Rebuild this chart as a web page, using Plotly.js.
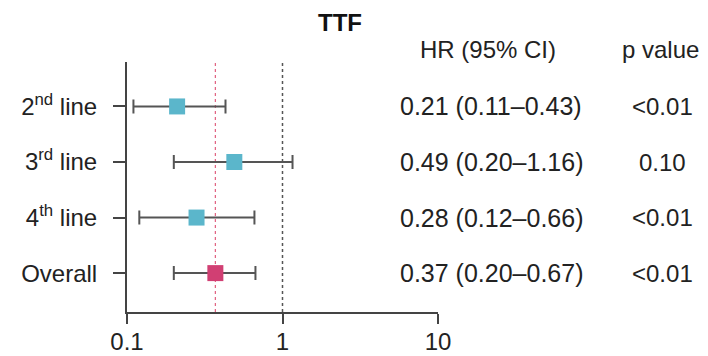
<!DOCTYPE html>
<html>
<head>
<meta charset="utf-8">
<script src="https://cdn.plot.ly/plotly-3.0.1.min.js"></script>
<style>html,body{margin:0;padding:0;background:#fff;}#chart{width:708px;height:356px;}</style>
</head>
<body>
<div id="chart"></div>
<script>
// ---- data ----
const rowLabels = ["2<sup>nd</sup> line", "3<sup>rd</sup> line", "4<sup>th</sup> line", "Overall"];
const hr      = [0.21, 0.49, 0.28, 0.37];
const ciLow   = [0.11, 0.20, 0.12, 0.20];
const ciHigh  = [0.43, 1.16, 0.66, 0.67];
const hrText  = ["0.21 (0.11\u20130.43)", "0.49 (0.20\u20131.16)", "0.28 (0.12\u20130.66)", "0.37 (0.20\u20130.67)"];
const pText   = ["<0.01", "0.10", "<0.01", "<0.01"];
const isOverall = [false, false, false, true];
const xTickVals = [0.1, 1, 10];
const xTickText = ["0.1", "1", "10"];
const nullLine = 1;
const overallLine = 0.37;

const FONT = "Liberation Sans, Arial, Helvetica, sans-serif";
const rowPos = rowLabels.map((_, i) => i);
const colors = isOverall.map(o => o ? "#d13f73" : "#5bb6cb");

const trace = {
  type: "scatter",
  mode: "markers",
  x: hr,
  y: rowPos,
  marker: {symbol: "square", size: 16, color: colors, line: {width: 0}},
  error_x: {
    type: "data",
    symmetric: false,
    array: hr.map((v, i) => ciHigh[i] - v),
    arrayminus: hr.map((v, i) => v - ciLow[i]),
    color: "#555555",
    thickness: 2,
    width: 7
  },
  hoverinfo: "skip",
  showlegend: false
};

const annotations = [];
annotations.push({text: "<b>TTF</b>", xref: "paper", yref: "paper", x: 0.685, y: 1.16,
  xanchor: "center", yanchor: "middle", showarrow: false, font: {family: FONT, size: 24, color: "#111"}});
annotations.push({text: "HR (95% CI)", xref: "paper", yref: "paper", x: 1.162, y: 1.048,
  xanchor: "center", yanchor: "middle", showarrow: false, font: {family: FONT, size: 24, color: "#222"}});
annotations.push({text: "p value", xref: "paper", yref: "paper", x: 1.715, y: 1.048,
  xanchor: "center", yanchor: "middle", showarrow: false, font: {family: FONT, size: 24, color: "#222"}});
rowPos.forEach((p, i) => {
  annotations.push({text: hrText[i], xref: "paper", yref: "y", x: 1.172, y: p,
    xanchor: "center", yanchor: "middle", showarrow: false, font: {family: FONT, size: 25, color: "#222"}});
  annotations.push({text: pText[i].replace("<", "&lt;"), xref: "paper", yref: "y", x: 1.722, y: p,
    xanchor: "center", yanchor: "middle", showarrow: false, font: {family: FONT, size: 24, color: "#222"}});
});

const layout = {
  width: 708, height: 356,
  margin: {l: 127, r: 270, t: 62, b: 44, pad: 0},
  paper_bgcolor: "#fff", plot_bgcolor: "#fff",
  font: {family: FONT, size: 24, color: "#222"},
  xaxis: {
    type: "log", range: [-1, 1],
    tickvals: xTickVals, ticktext: xTickText,
    showgrid: false, zeroline: false,
    showline: true, linecolor: "#444", linewidth: 2,
    ticks: "outside", ticklen: 10, tickwidth: 2, tickcolor: "#444",
    ticklabelstandoff: -3,
    tickfont: {family: FONT, size: 24, color: "#222"},
    fixedrange: true
  },
  yaxis: {
    range: [3.7, -0.8],
    tickvals: rowPos, ticktext: rowLabels,
    showgrid: false, zeroline: false,
    showline: true, linecolor: "#444", linewidth: 2,
    ticks: "outside", ticklen: 12, tickwidth: 2, tickcolor: "#444",
    ticklabelstandoff: 11,
    tickfont: {family: FONT, size: 24, color: "#222"},
    fixedrange: true
  },
  shapes: [
    {type: "line", xref: "x", yref: "paper", x0: nullLine, x1: nullLine, y0: 0, y1: 1,
     line: {color: "#555", width: 1.5, dash: "dot"}, layer: "below"},
    {type: "line", xref: "x", yref: "paper", x0: overallLine, x1: overallLine, y0: 0, y1: 1,
     line: {color: "#e0607f", width: 1.2, dash: "dot"}, layer: "below"}
  ],
  annotations: annotations
};

Plotly.newPlot("chart", [trace], layout, {displayModeBar: false, staticPlot: true});
</script>
</body>
</html>
